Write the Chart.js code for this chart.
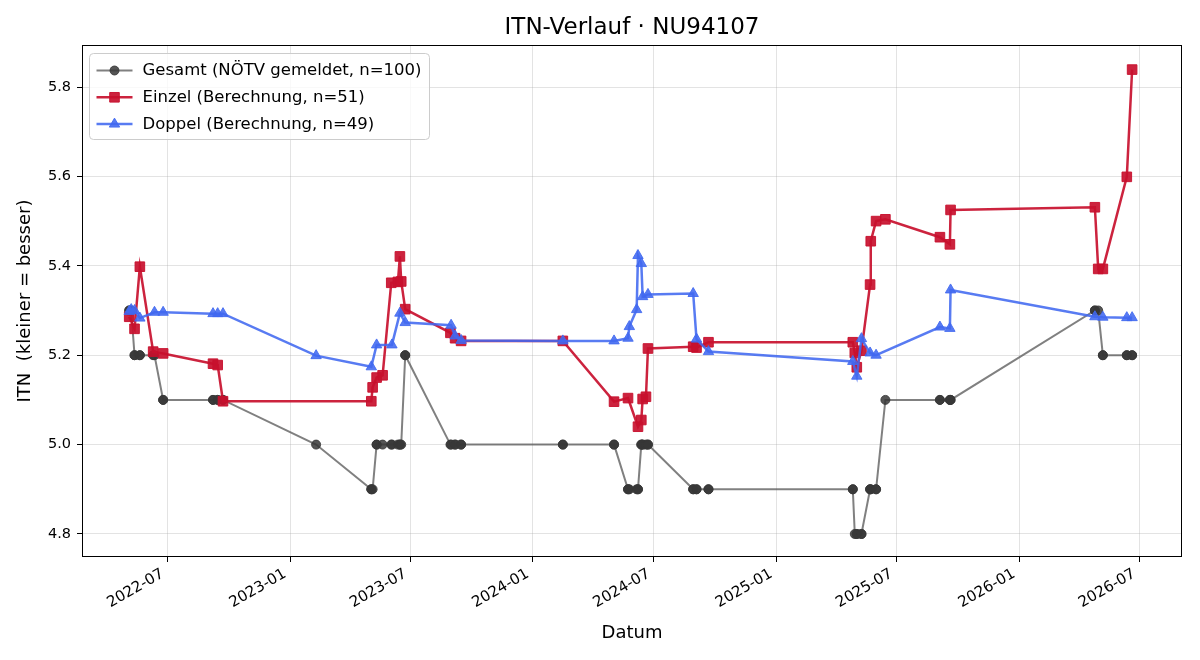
<!DOCTYPE html>
<html>
<head>
<meta charset="utf-8">
<script src="https://cdn.jsdelivr.net/npm/chart.js@4.4.1/dist/chart.umd.min.js"></script>
<style>
html,body{margin:0;padding:0;background:#fff;}
#wrap{width:1200px;height:660px;}
</style>
</head>
<body>
<div id="wrap"><canvas id="c" width="1200" height="660"></canvas></div>
<script>
const chartTitle = 'ITN-Verlauf · NU94107';
const xAxisLabel = 'Datum';
const yAxisLabel = 'ITN  (kleiner = besser)';
const yTickValues = [4.8, 5.0, 5.2, 5.4, 5.6, 5.8];
const xTickLabels = ['2022-07','2023-01','2023-07','2024-01','2024-07','2025-01','2025-07','2026-01','2026-07'];
const xLimits = ['2022-02-22', '2026-09-03'];
const yLimits = [4.7485, 5.894];

const seriesLabels = ['Gesamt (NÖTV gemeldet, n=100)', 'Einzel (Berechnung, n=51)', 'Doppel (Berechnung, n=49)'];

const gesamtDates = [
 '2022-05-04','2022-05-04','2022-05-07','2022-05-12','2022-05-12','2022-05-20','2022-05-20','2022-06-09','2022-06-11','2022-06-24','2022-06-24',
 '2022-09-07','2022-09-07','2022-09-14','2022-09-14','2022-09-22','2022-09-22','2023-02-09',
 '2023-05-03','2023-05-03','2023-05-05','2023-05-11','2023-05-11','2023-05-20','2023-06-02','2023-06-03','2023-06-12','2023-06-15','2023-06-15','2023-06-17','2023-06-23','2023-06-23',
 '2023-08-30','2023-08-31','2023-09-06','2023-09-06','2023-09-15','2023-09-15','2024-02-15','2024-02-15',
 '2024-05-02','2024-05-02','2024-05-23','2024-05-23','2024-05-25','2024-06-05','2024-06-07','2024-06-07','2024-06-12','2024-06-12','2024-06-14','2024-06-14','2024-06-19','2024-06-22','2024-06-22',
 '2024-08-29','2024-08-29','2024-09-03','2024-09-03','2024-09-21','2024-09-21',
 '2025-04-26','2025-04-26','2025-04-29','2025-05-02','2025-05-02','2025-05-09','2025-05-09','2025-05-22','2025-05-22','2025-05-23','2025-05-31','2025-05-31','2025-06-14',
 '2025-09-04','2025-09-04','2025-09-19','2025-09-19','2025-09-20','2025-09-20',
 '2026-04-25','2026-04-25','2026-04-30','2026-05-07','2026-05-07','2026-06-12','2026-06-12','2026-06-20','2026-06-20'
];
const gesamtValues = [
 5.3,5.3,5.3,5.2,5.2,5.2,5.2,5.2,5.2,5.1,5.1,
 5.1,5.1,5.1,5.1,5.1,5.1,5.0,
 4.9,4.9,4.9,5.0,5.0,5.0,5.0,5.0,5.0,5.0,5.0,5.0,5.2,5.2,
 5.0,5.0,5.0,5.0,5.0,5.0,5.0,5.0,
 5.0,5.0,4.9,4.9,4.9,4.9,4.9,4.9,5.0,5.0,5.0,5.0,5.0,5.0,5.0,
 4.9,4.9,4.9,4.9,4.9,4.9,
 4.9,4.9,4.8,4.8,4.8,4.8,4.8,4.9,4.9,4.9,4.9,4.9,5.1,
 5.1,5.1,5.1,5.1,5.1,5.1,
 5.3,5.3,5.3,5.2,5.2,5.2,5.2,5.2,5.2
];

const einzelDates = [
 '2022-05-04','2022-05-12','2022-05-20','2022-06-09','2022-06-24','2022-09-07','2022-09-14','2022-09-22',
 '2023-05-03','2023-05-05','2023-05-11','2023-05-20','2023-06-02','2023-06-12','2023-06-15','2023-06-17','2023-06-23',
 '2023-08-30','2023-09-06','2023-09-15','2024-02-15',
 '2024-05-02','2024-05-23','2024-06-07','2024-06-12','2024-06-14','2024-06-19','2024-06-22',
 '2024-08-29','2024-09-03','2024-09-21',
 '2025-04-26','2025-04-29','2025-05-02','2025-05-09','2025-05-22','2025-05-23','2025-05-31','2025-06-14',
 '2025-09-04','2025-09-19','2025-09-20',
 '2026-04-25','2026-04-30','2026-05-07','2026-06-12','2026-06-20'
];
const einzelValues = [
 5.286,5.259,5.398,5.208,5.204,5.181,5.178,5.097,
 5.097,5.128,5.150,5.155,5.362,5.364,5.421,5.365,5.303,
 5.250,5.238,5.232,5.232,
 5.096,5.104,5.040,5.055,5.102,5.107,5.215,
 5.219,5.217,5.229,
 5.229,5.205,5.173,5.210,5.358,5.455,5.500,5.504,
 5.464,5.448,5.525,
 5.531,5.393,5.393,5.599,5.839
];

const doppelDates = [
 '2022-05-04','2022-05-07','2022-05-12','2022-05-20','2022-06-11','2022-06-24','2022-09-07','2022-09-14','2022-09-22',
 '2023-02-09','2023-05-03','2023-05-11','2023-06-03','2023-06-15','2023-06-23',
 '2023-08-31','2023-09-06','2023-09-15','2024-02-15',
 '2024-05-02','2024-05-23','2024-05-25','2024-06-05','2024-06-07','2024-06-12','2024-06-14','2024-06-22',
 '2024-08-29','2024-09-03','2024-09-21',
 '2025-04-26','2025-05-02','2025-05-09','2025-05-22','2025-05-31',
 '2025-09-04','2025-09-19','2025-09-20',
 '2026-04-25','2026-05-07','2026-06-12','2026-06-20'
];
const doppelValues = [
 5.298,5.302,5.300,5.283,5.296,5.296,5.293,5.293,5.293,
 5.199,5.174,5.223,5.223,5.294,5.273,
 5.267,5.243,5.233,5.232,
 5.232,5.238,5.264,5.302,5.423,5.405,5.331,5.336,
 5.338,5.236,5.208,
 5.186,5.153,5.237,5.205,5.200,
 5.263,5.260,5.346,
 5.286,5.285,5.284,5.284
];

const FONT = 'DejaVu Sans';
const ts = d => Date.parse(d + 'T00:00:00Z');
const toPts = (dates, vals) => dates.map((d, i) => ({x: ts(d), y: vals[i]}));

const frameLegend = {
  id: 'frameLegend',
  afterDatasetsDraw(chart) {
    const {ctx, chartArea: a} = chart;
    ctx.save();
    ctx.strokeStyle = '#000';
    ctx.lineWidth = 1;
    ctx.strokeRect(Math.round(a.left) + 0.5, Math.round(a.top) + 0.5, Math.round(a.right - a.left) - 1, Math.round(a.bottom - a.top) - 1);
    // title centred over plot area
    ctx.fillStyle = '#000';
    ctx.font = '23px "' + FONT + '"';
    ctx.textAlign = 'center';
    ctx.textBaseline = 'middle';
    ctx.fillText(chartTitle, (a.left + a.right) / 2, 28);
    // legend
    const x0 = a.left + 7.5, y0 = a.top + 8.5, w = 340, h = 86, r = 4;
    ctx.beginPath();
    ctx.moveTo(x0 + r, y0);
    ctx.lineTo(x0 + w - r, y0); ctx.quadraticCurveTo(x0 + w, y0, x0 + w, y0 + r);
    ctx.lineTo(x0 + w, y0 + h - r); ctx.quadraticCurveTo(x0 + w, y0 + h, x0 + w - r, y0 + h);
    ctx.lineTo(x0 + r, y0 + h); ctx.quadraticCurveTo(x0, y0 + h, x0, y0 + h - r);
    ctx.lineTo(x0, y0 + r); ctx.quadraticCurveTo(x0, y0, x0 + r, y0);
    ctx.closePath();
    ctx.fillStyle = 'rgba(255,255,255,0.8)';
    ctx.fill();
    ctx.strokeStyle = '#cccccc';
    ctx.lineWidth = 1;
    ctx.stroke();
    chart.data.datasets.forEach((ds, i) => {
      const cy = y0 + 17 + i * 26.8;
      ctx.strokeStyle = ds.borderColor;
      ctx.lineWidth = ds.borderWidth;
      ctx.beginPath(); ctx.moveTo(x0 + 7, cy); ctx.lineTo(x0 + 43, cy); ctx.stroke();
      ctx.fillStyle = ds.pointBackgroundColor;
      ctx.strokeStyle = ds.pointBorderColor;
      ctx.lineWidth = ds.pointBorderWidth;
      Chart.helpers.drawPoint(ctx, {pointStyle: ds.pointStyle, radius: ds.pointRadius, rotation: 0, borderWidth: ds.pointBorderWidth}, x0 + 25, cy);
      ctx.fillStyle = '#000';
      ctx.font = '16.5px "' + FONT + '"';
      ctx.textBaseline = 'middle';
      ctx.textAlign = 'left';
      ctx.fillText(ds.label, x0 + 53, cy + 0.5);
    });
    ctx.restore();
  }
};

Chart.defaults.font.family = FONT;
Chart.defaults.color = '#000';

new Chart(document.getElementById('c'), {
  type: 'line',
  data: {
    datasets: [
      {label: seriesLabels[0], data: toPts(gesamtDates, gesamtValues), order: 3,
       borderColor: 'rgba(85,85,85,0.75)', borderWidth: 2,
       pointStyle: 'circle', pointRadius: 4.5, pointBackgroundColor: 'rgba(55,55,55,0.85)', pointBorderColor: 'rgba(55,55,55,0.85)', pointBorderWidth: 1, tension: 0},
      {label: seriesLabels[1], data: toPts(einzelDates, einzelValues), order: 2,
       borderColor: 'rgba(200,16,46,0.92)', borderWidth: 2.5,
       pointStyle: 'rect', pointRadius: 6.8, pointBackgroundColor: 'rgba(200,16,46,0.92)', pointBorderColor: 'rgba(200,16,46,0.92)', pointBorderWidth: 1, tension: 0},
      {label: seriesLabels[2], data: toPts(doppelDates, doppelValues), order: 1,
       borderColor: 'rgba(65,105,240,0.88)', borderWidth: 2.5,
       pointStyle: 'triangle', pointRadius: 6, pointBackgroundColor: 'rgba(65,105,240,0.88)', pointBorderColor: 'rgba(65,105,240,0.88)', pointBorderWidth: 1, tension: 0}
    ]
  },
  options: {
    responsive: false,
    animation: false,
    devicePixelRatio: 1,
    layout: {padding: {left: 0, right: 18, top: 45, bottom: 0}},
    plugins: {
      legend: {display: false},
      tooltip: {enabled: false},
      title: {display: false}
    },
    scales: {
      x: {
        type: 'linear',
        min: ts(xLimits[0]), max: ts(xLimits[1]),
        border: {display: false},
        grid: {color: 'rgba(176,176,176,0.35)', tickColor: '#000', tickLength: 5, drawTicks: true},
        afterBuildTicks: s => { s.ticks = xTickLabels.map(l => ({value: ts(l + '-01')})); },
        afterFit: s => { s.height = 103; },
        ticks: {
          autoSkip: false, minRotation: 30, maxRotation: 30, padding: 3, labelOffset: -5,
          font: {size: 15},
          callback: v => { const d = new Date(v); return d.getUTCFullYear() + '-' + String(d.getUTCMonth() + 1).padStart(2, '0'); }
        },
        title: {display: true, text: xAxisLabel, font: {size: 18}, padding: {top: 0, bottom: 16}}
      },
      y: {
        type: 'linear',
        min: yLimits[0], max: yLimits[1],
        border: {display: false},
        grid: {color: 'rgba(176,176,176,0.35)', tickColor: '#000', tickLength: 5, drawTicks: true},
        afterBuildTicks: s => { s.ticks = yTickValues.map(v => ({value: v})); },
        afterFit: s => { s.width = 82; },
        ticks: {padding: 6, font: {size: 14.5}, callback: v => Number(v).toFixed(1)},
        title: {display: true, text: yAxisLabel, font: {size: 18}, padding: {top: 15, bottom: 0}}
      }
    }
  },
  plugins: [frameLegend]
});
</script>
</body>
</html>
